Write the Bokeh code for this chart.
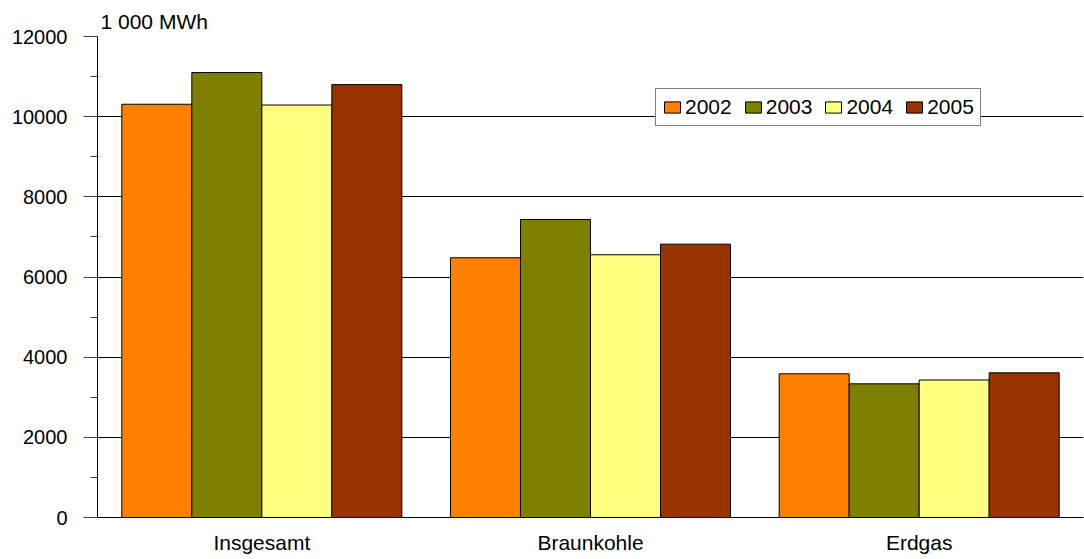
from bokeh.plotting import figure
from bokeh.models import (Range1d, FixedTicker, Legend, LegendItem,
                          ColumnDataSource)
from bokeh.transform import dodge
from bokeh.embed import file_html
from bokeh.resources import INLINE

# ---- data ----
categories = ["Insgesamt", "Braunkohle", "Erdgas"]
years = ["2002", "2003", "2004", "2005"]
v2002 = [10310, 6480, 3585]
v2003 = [11100, 7435, 3335]
v2004 = [10290, 6555, 3430]
v2005 = [10800, 6820, 3610]
colors = ["#FF8000", "#808000", "#FFFF80", "#993300"]
y_major_ticks = [0, 2000, 4000, 6000, 8000, 10000, 12000]
y_minor_ticks = [1000, 3000, 5000, 7000, 9000, 11000]
unit_label = "1 000 MWh"

FONT = "Liberation Sans"

centers = [i + 0.5 for i in range(len(categories))]
src = ColumnDataSource(dict(x=centers, v2002=v2002, v2003=v2003,
                            v2004=v2004, v2005=v2005))

p = figure(width=1084, height=559,
           x_range=Range1d(0, len(categories)), y_range=Range1d(0, 12000),
           output_backend="svg", toolbar_location=None,
           min_border_left=97, min_border_right=1,
           min_border_top=36, min_border_bottom=42)
p.outline_line_color = None
p.background_fill_color = "white"
p.border_fill_color = "white"

# unit title
p.title.text = unit_label
p.title.align = "left"
p.title.offset = 3
p.title.standoff = 7
p.title.text_font = FONT
p.title.text_font_size = "21px"
p.title.text_font_style = "normal"
p.title.text_color = "black"

bw = 0.213
offsets = [-1.5 * bw, -0.5 * bw, 0.5 * bw, 1.5 * bw]
series_cols = ["v2002", "v2003", "v2004", "v2005"]
renderers = []
for col, off, c in zip(series_cols, offsets, colors):
    r = p.vbar(x=dodge("x", off), top=col, width=bw, bottom=0, source=src,
               fill_color=c, line_color="black", line_width=1)
    renderers.append(r)

# x axis
xa = p.xaxis[0]
xa.ticker = FixedTicker(ticks=centers)
xa.major_label_overrides = {c: n for c, n in zip(centers, categories)}
xa.major_tick_out = 0
xa.major_tick_in = 0
xa.minor_tick_out = 0
xa.minor_tick_in = 0
xa.axis_line_color = "black"
xa.major_label_text_font = FONT
xa.major_label_text_font_size = "21px"
xa.major_label_text_color = "black"
xa.major_label_standoff = 13

# y axis
ya = p.yaxis[0]
ya.ticker = FixedTicker(ticks=y_major_ticks, minor_ticks=y_minor_ticks)
ya.major_tick_out = 14
ya.major_tick_in = 0
ya.minor_tick_out = 7
ya.minor_tick_in = 0
ya.major_tick_line_color = "#404040"
ya.minor_tick_line_color = "#404040"
ya.axis_line_color = "black"
ya.major_label_text_font = FONT
ya.major_label_text_font_size = "20px"
ya.major_label_text_color = "black"
ya.major_label_standoff = 16

p.xgrid.visible = False
p.ygrid.ticker = FixedTicker(ticks=y_major_ticks)
p.ygrid.grid_line_color = "black"
p.ygrid.grid_line_width = 1

legend = Legend(items=[LegendItem(label=y, renderers=[r])
                       for y, r in zip(years, renderers)],
                orientation="horizontal", location=(558, 391),
                glyph_width=20, glyph_height=14, label_standoff=3,
                spacing=11, padding=6, margin=0,
                border_line_color="black", border_line_width=1,
                background_fill_color="white", background_fill_alpha=1,
                label_text_font=FONT, label_text_font_size="21px",
                label_text_color="black")
p.add_layout(legend)

open("out.html", "w").write(file_html(p, INLINE))
